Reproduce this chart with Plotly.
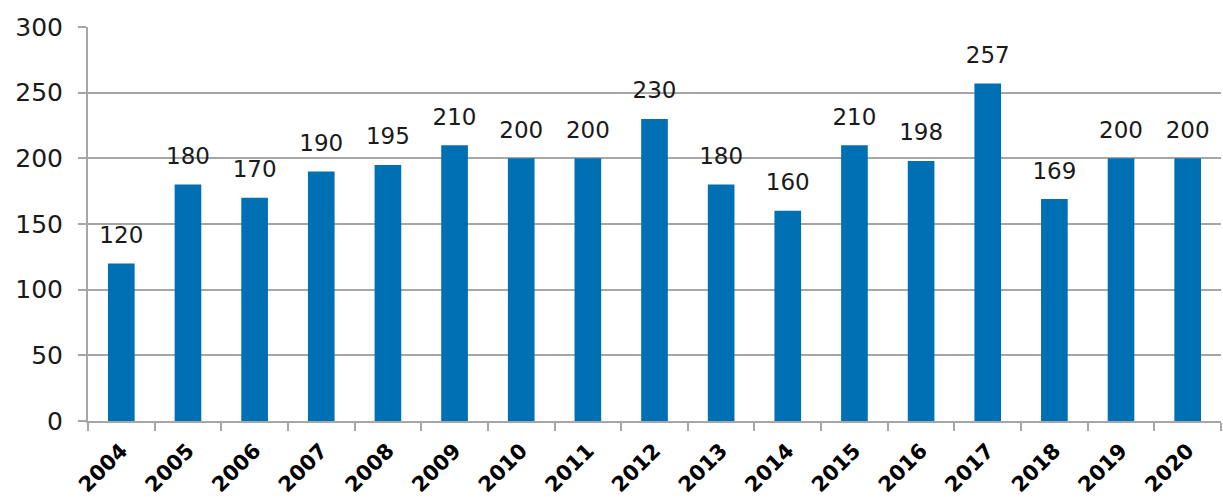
import plotly.graph_objects as go

years = ["2004", "2005", "2006", "2007", "2008", "2009", "2010", "2011", "2012",
         "2013", "2014", "2015", "2016", "2017", "2018", "2019", "2020"]
values = [120, 180, 170, 190, 195, 210, 200, 200, 230,
          180, 160, 210, 198, 257, 169, 200, 200]
y_ticks = [0, 50, 100, 150, 200, 250, 300]

BAR = "#0070b5"
GRID = "#a6a6a6"
FONT = "DejaVu Sans"

fig = go.Figure()

fig.add_trace(
    go.Bar(
        x=years,
        y=values,
        marker=dict(color=BAR, line=dict(width=0)),
        hoverinfo="x+y",
    )
)

# value labels above each bar; the invisible marker sets the gap to the bar top
fig.add_trace(
    go.Scatter(
        x=years,
        y=values,
        mode="markers+text",
        text=[str(v) for v in values],
        textposition="top center",
        marker=dict(size=22, opacity=0),
        textfont=dict(family=FONT, size=23, color="#1a1a1a"),
        cliponaxis=False,
        hoverinfo="skip",
    )
)

fig.update_layout(
    width=1223,
    height=503,
    margin=dict(l=88, r=2, t=27, b=82),
    paper_bgcolor="white",
    plot_bgcolor="white",
    bargap=0.6,
    showlegend=False,
    font=dict(family=FONT, color="#1a1a1a"),
)

fig.update_xaxes(
    type="category",
    categoryorder="array",
    categoryarray=years,
    range=[-0.5, len(years) - 0.5],
    automargin=False,
    showline=True,
    linecolor=GRID,
    linewidth=2,
    ticks="outside",
    tickson="boundaries",
    ticklen=8,
    tickwidth=2,
    tickcolor=GRID,
    tickangle=-45,
    tickfont=dict(family=FONT, size=21, color="#000000", weight="bold"),
    ticklabelstandoff=7,
    showgrid=False,
)

fig.update_yaxes(
    range=[0, 300],
    tickvals=y_ticks,
    automargin=False,
    showline=True,
    linecolor=GRID,
    linewidth=2,
    ticks="outside",
    ticklen=8,
    tickwidth=2,
    tickcolor=GRID,
    showgrid=True,
    gridcolor=GRID,
    gridwidth=2,
    zeroline=False,
    tickfont=dict(family=FONT, size=25, color="#1a1a1a"),
    ticklabelstandoff=10,
)

fig.write_html("out.html")
